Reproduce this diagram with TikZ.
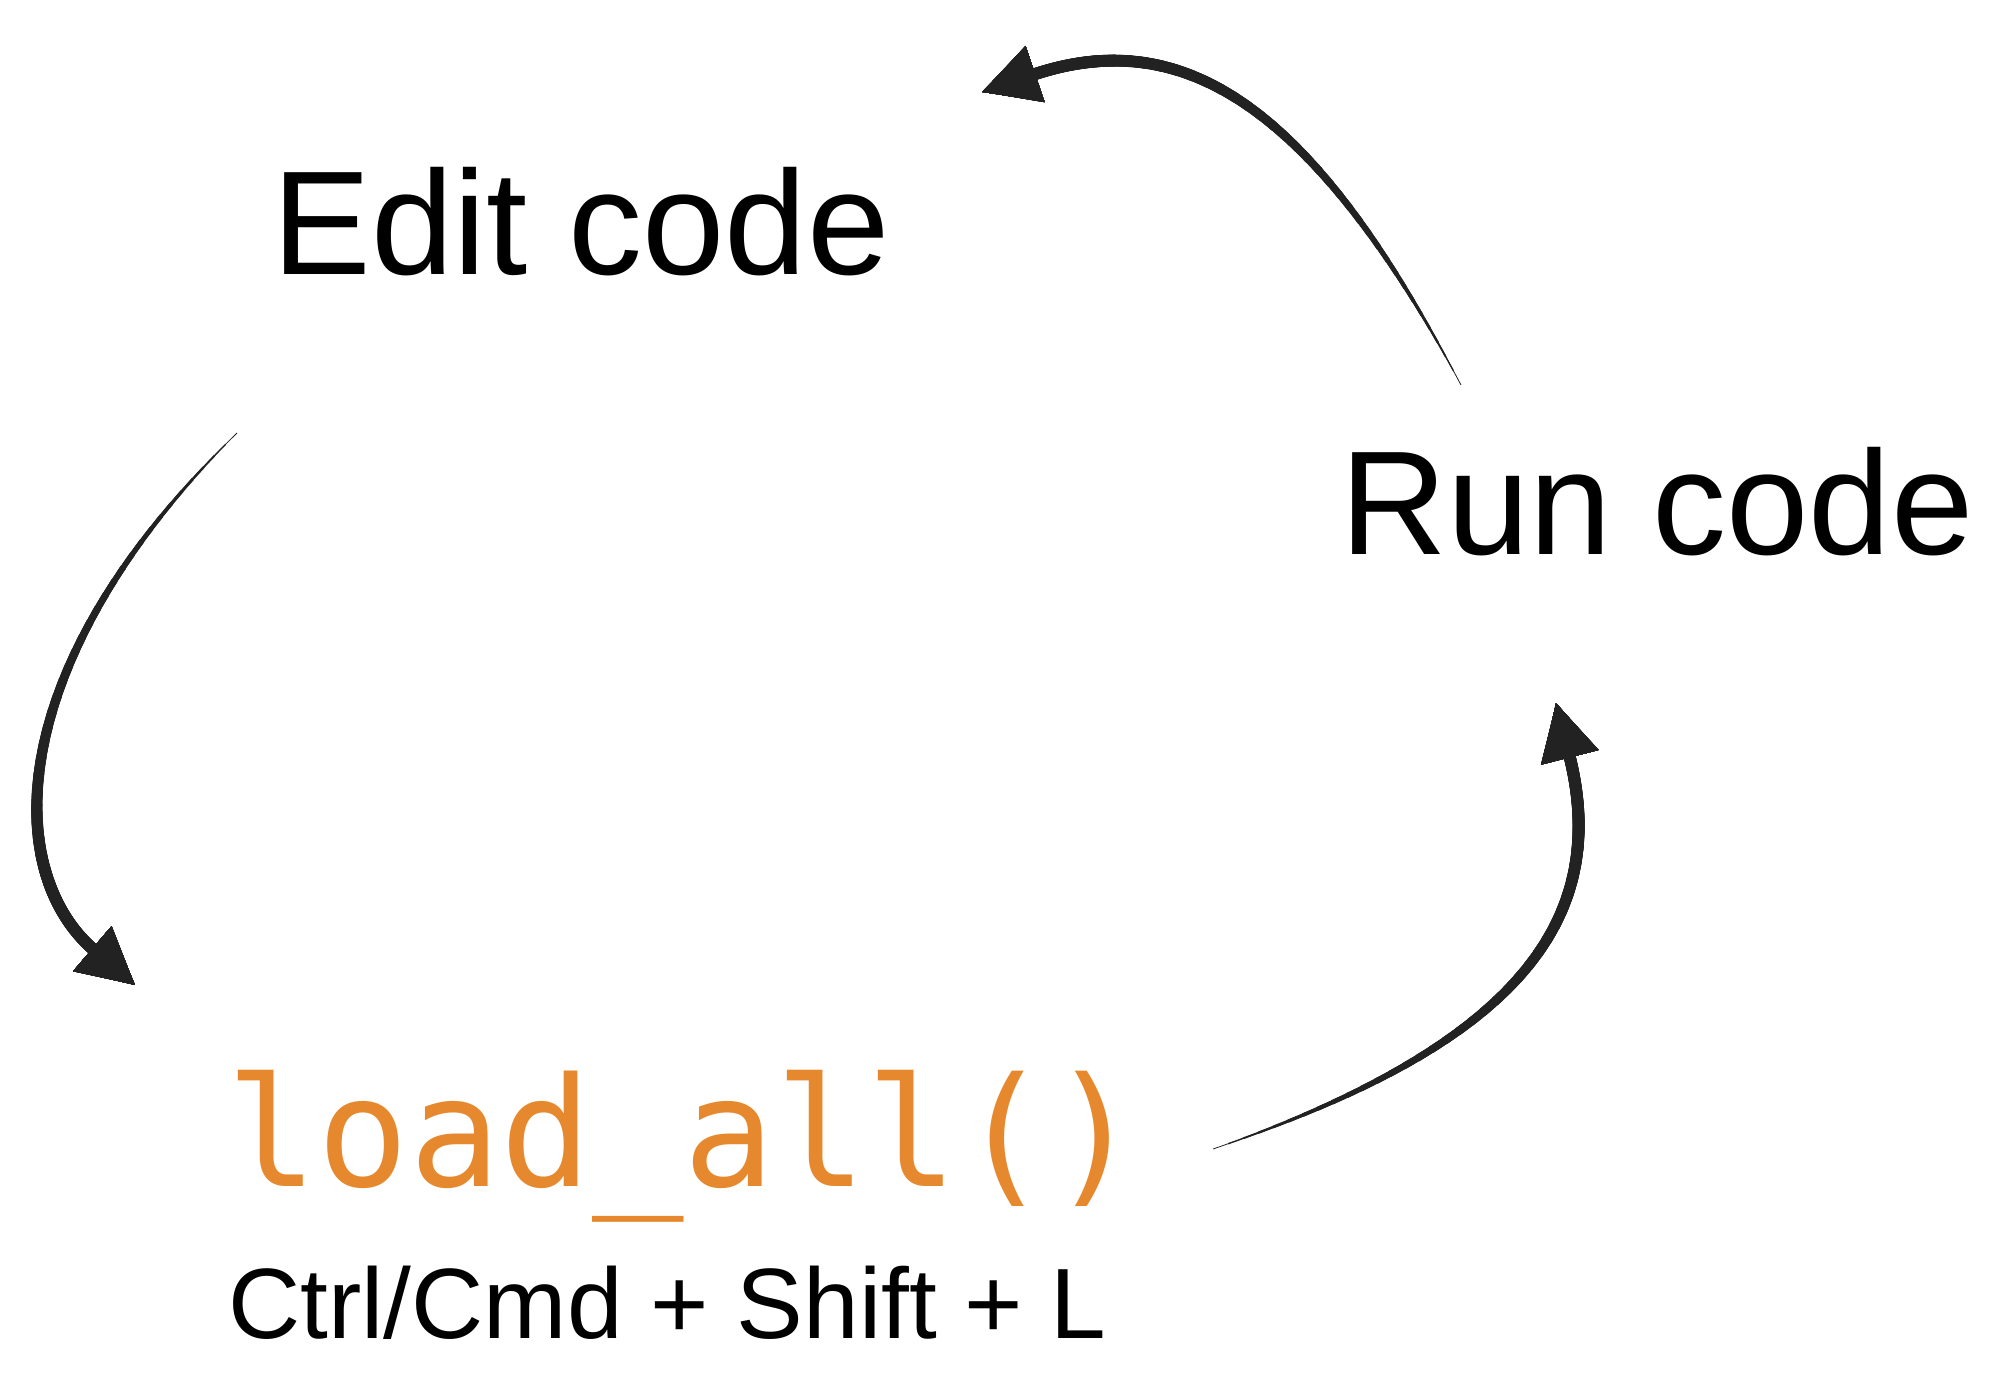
\documentclass[tikz,border=0pt]{standalone}
\usepackage{fontspec}
\setmainfont{Liberation Sans}
\setmonofont{DejaVu Sans Mono}
\usetikzlibrary{arrows.meta,positioning}
\definecolor{codeorange}{HTML}{E6892E}
\definecolor{arrowgray}{HTML}{222222}
\tikzset{
	step_n/.style = {inner sep=0pt, anchor=base,
		font=\fontsize{74}{80}\selectfont},
	code_n/.style = {inner sep=0pt, anchor=base west, codeorange,
		font=\ttfamily\fontsize{76}{84}\selectfont},
	key_n/.style = {inner sep=0pt, anchor=base west,
		font=\fontsize{50}{58}\selectfont},
	cycle_e/.style = {arrowgray, line width=#1pt,
		-{Triangle[length=28pt, width=28pt]}}
}

\begin{document}
\begin{tikzpicture}[x=0.5pt, y=-0.5pt]
\useasboundingbox (0,0) rectangle (1998,1387);
\node [step_n] (edit) at (581,274) {Edit code};
\node [step_n] (run) at (1657,554) {Run code};
\node [code_n] (load) at (226,1186) {load\_all()};
\node [key_n] (keys) at (228,1338) {Ctrl/Cmd + Shift + L};
% free ends of the arrows
\coordinate (edit-out) at (237,433);
\coordinate (load-in) at (135,985);
\coordinate (load-out) at (1213,1149);
\coordinate (run-in) at (1556,703);
\coordinate (run-out) at (1461,385);
\coordinate (edit-in) at (982,92);
% thin at the start, thicker towards the head
\foreach \d [evaluate=\d as \w using {0.4+5.6*(1-(1-\d/260)^1.5)}] in {0,8,...,256}{
	\draw [cycle_e=\w, dash pattern=on 0pt off \d pt on 1000pt]
		(edit-out) .. controls (5,660) and (0,870) .. (load-in);
	\draw [cycle_e=\w, dash pattern=on 0pt off \d pt on 1000pt]
		(load-out) .. controls (1513,1046) and (1612,923) .. (run-in);
	\draw [cycle_e=\w, dash pattern=on 0pt off \d pt on 1000pt]
		(run-out) .. controls (1310,100) and (1180,25) .. (edit-in);
}
\end{tikzpicture}
\end{document}
